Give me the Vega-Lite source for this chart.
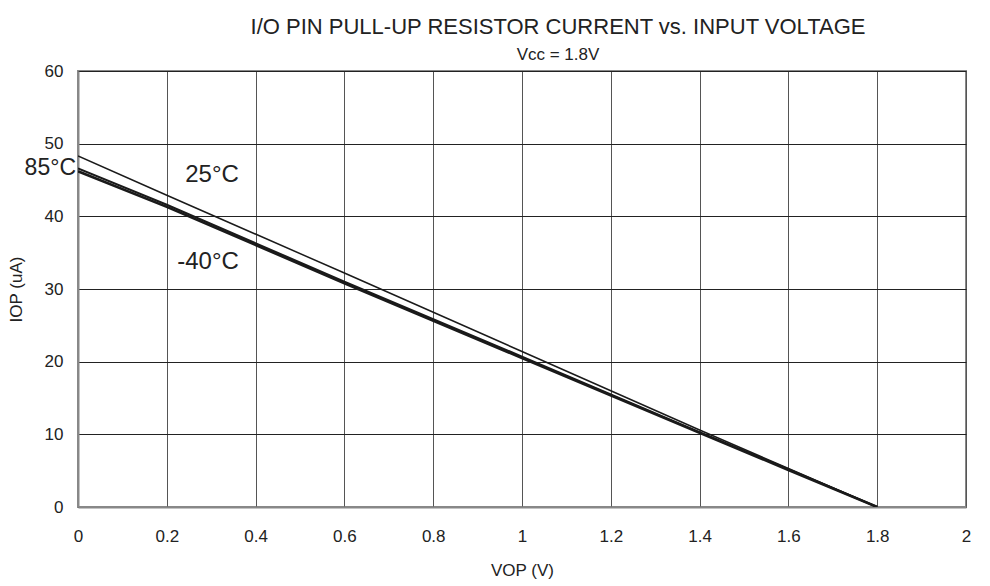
{
  "$schema": "https://vega.github.io/schema/vega-lite/v6.json",
  "width": 888,
  "height": 436,
  "autosize": {"type": "none"},
  "padding": {"left": 78, "top": 71, "right": 24, "bottom": 79},
  "background": "white",
  "config": {
    "font": "Liberation Sans",
    "view": {"stroke": "#888888", "strokeWidth": 2},
    "axis": {"labelFont": "Liberation Sans", "titleFont": "Liberation Sans", "labelColor": "#222222", "titleColor": "#222222"}
  },
  "title": {
    "text": "I/O PIN PULL-UP RESISTOR CURRENT vs. INPUT VOLTAGE",
    "subtitle": "Vcc = 1.8V",
    "anchor": "middle",
    "dx": 36,
    "fontSize": 22,
    "fontWeight": "normal",
    "color": "#222222",
    "subtitleFontSize": 17,
    "subtitleColor": "#222222",
    "subtitlePadding": 8,
    "offset": -2
  },
  "datasets": {
    "curves": [
      {"v": 0, "i": 48.3, "t": "25°C"},
      {"v": 0.2, "i": 42.9, "t": "25°C"},
      {"v": 0.6, "i": 32.2, "t": "25°C"},
      {"v": 1.0, "i": 21.4, "t": "25°C"},
      {"v": 1.4, "i": 10.6, "t": "25°C"},
      {"v": 1.6, "i": 5.3, "t": "25°C"},
      {"v": 1.8, "i": 0, "t": "25°C"},
      {"v": 0, "i": 46.6, "t": "85°C"},
      {"v": 0.2, "i": 41.6, "t": "85°C"},
      {"v": 0.6, "i": 31.0, "t": "85°C"},
      {"v": 1.0, "i": 20.7, "t": "85°C"},
      {"v": 1.4, "i": 10.3, "t": "85°C"},
      {"v": 1.6, "i": 5.2, "t": "85°C"},
      {"v": 1.8, "i": 0, "t": "85°C"},
      {"v": 0, "i": 46.2, "t": "-40°C"},
      {"v": 0.2, "i": 41.3, "t": "-40°C"},
      {"v": 0.6, "i": 30.8, "t": "-40°C"},
      {"v": 1.0, "i": 20.5, "t": "-40°C"},
      {"v": 1.4, "i": 10.2, "t": "-40°C"},
      {"v": 1.6, "i": 5.1, "t": "-40°C"},
      {"v": 1.8, "i": 0, "t": "-40°C"}
    ],
    "leftlabels": [
      {"v": 0, "i": 46.7, "label": "85°C"}
    ],
    "labels": [
      {"v": 0.302, "i": 45.7, "label": "25°C"},
      {"v": 0.293, "i": 33.7, "label": "-40°C"}
    ]
  },
  "layer": [
    {
      "data": {"name": "curves"},
      "mark": {"type": "line", "color": "#1a1a1a", "clip": true},
      "encoding": {
        "x": {
          "field": "v", "type": "quantitative",
          "scale": {"domain": [0, 2], "nice": false},
          "axis": {
            "title": "VOP (V)", "titleFontSize": 17, "titleFontWeight": "normal", "titlePadding": 18,
            "values": [0, 0.2, 0.4, 0.6, 0.8, 1, 1.2, 1.4, 1.6, 1.8, 2],
            "format": "~g", "labelFlush": false,
            "labelFontSize": 17, "labelPadding": 21, "ticks": false,
            "domainColor": "#888888", "domainWidth": 2,
            "gridColor": "#555555", "gridWidth": 1, "gridOpacity": 1
          }
        },
        "y": {
          "field": "i", "type": "quantitative",
          "scale": {"domain": [0, 60], "nice": false},
          "axis": {
            "title": "IOP (uA)", "titleFontSize": 17, "titleFontWeight": "normal", "titlePadding": 19,
            "values": [0, 10, 20, 30, 40, 50, 60],
            "labelFontSize": 17, "labelPadding": 15, "ticks": false, "labelFlush": false,
            "domainColor": "#888888", "domainWidth": 2,
            "gridColor": "#222222", "gridWidth": 1, "gridOpacity": 1
          }
        },
        "detail": {"field": "t"},
        "strokeWidth": {
          "field": "t", "type": "nominal",
          "scale": {"domain": ["25°C", "85°C", "-40°C"], "range": [1.5, 2.6, 2.6]},
          "legend": null
        }
      }
    },
    {
      "data": {"name": "leftlabels"},
      "mark": {"type": "text", "fontSize": 23, "color": "#222222", "baseline": "middle", "align": "right", "dx": -2, "clip": false},
      "encoding": {
        "x": {"field": "v", "type": "quantitative"},
        "y": {"field": "i", "type": "quantitative"},
        "text": {"field": "label"}
      }
    },
    {
      "data": {"name": "labels"},
      "mark": {"type": "text", "fontSize": 24, "color": "#222222", "baseline": "middle", "align": "center", "clip": false},
      "encoding": {
        "x": {"field": "v", "type": "quantitative"},
        "y": {"field": "i", "type": "quantitative"},
        "text": {"field": "label"}
      }
    }
  ]
}
